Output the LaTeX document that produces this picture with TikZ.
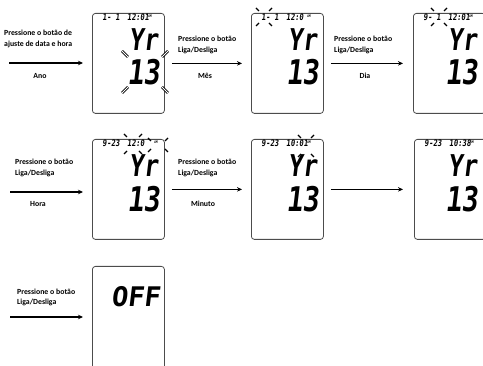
\documentclass[tikz,border=0pt]{standalone}
\usepackage{fontspec}
\setmainfont{Carlito}
\newfontfamily\lcdfont[FakeStretch=0.8,FakeSlant=0.12]{DejaVu Sans Mono}
\newfontfamily\lcdwide[FakeSlant=0.12]{DejaVu Sans Mono}
\usetikzlibrary{arrows.meta}
\tikzset{
  screen/.style={draw=black!70, line width=0.8pt, rounded corners=3pt,
    minimum width=72pt, minimum height=100pt, inner sep=0pt, anchor=north west},
  flow/.style={->, >={Stealth[length=5pt,width=4.5pt]}, line width=1.1pt},
  note/.style={align=left, anchor=west, inner sep=0pt,
    font=\bfseries\fontsize{7.8}{10.5}\selectfont},
  tag/.style={inner sep=0pt, font=\bfseries\fontsize{7.8}{9}\selectfont},
  small/.style={inner sep=0pt, font=\lcdfont\bfseries\fontsize{9}{9}\selectfont},
  ampm/.style={inner sep=0pt, anchor=base west, font=\lcdfont\bfseries\fontsize{3.5}{3.5}\selectfont},
  bigyr/.style={inner sep=0pt, anchor=base east, font=\lcdfont\bfseries\fontsize{30}{30}\selectfont},
  bignum/.style={inner sep=0pt, anchor=base east, font=\lcdfont\bfseries\fontsize{34}{34}\selectfont},
  blink/.style={line width=1.3pt},
  blinkbig/.style={double, double distance=0.9pt, line width=0.9pt},
}
% four marks round a blinking field: centre x, centre y, half width, half height, length
\newcommand{\blinkmarks}[6][blink]{%
  \foreach \sx in {-1,1}{\foreach \sy in {-1,1}{%
    \draw[#1] ({#2+\sx*#4},{#3+\sy*#5}) -- ++({\sx*#6},{\sy*#6});}}}
\begin{document}
\begin{tikzpicture}[x=1pt, y=-1pt]
  \useasboundingbox (0,0) rectangle (483,366);
  \clip (0,0) rectangle (483,366);

  % screens
  \node[screen] (s1) at (92,13) {};
  \node[screen] (s2) at (251,13) {};
  \node[screen] (s3) at (413,13) {};
  \node[screen] (s4) at (92,139) {};
  \node[screen] (s5) at (251,139) {};
  \node[screen] (s6) at (414,139) {};
  \node[screen, minimum height=112pt] (s7) at (92,266) {};

  % row 1
  \node[small, anchor=base east] (d1) at (120,20.5) {1- 1};
  \node[small, anchor=base west] (t1) at (127,20.5) {12:01};
  \node[ampm] (m1) at (148,18) {AM};
  \node[bigyr] (y1) at (158,51) {Yr};
  \node[bignum] (n1) at (160,85) {13};
  \blinkmarks[blinkbig]{145}{72}{17}{15}{6}

  \node[small, anchor=base east] (d2) at (279,20.5) {1- 1};
  \node[small, anchor=base west] (t2) at (286,20.5) {12:0};
  \node[ampm] (m2) at (307,18) {AM};
  \node[bigyr] (y2) at (317,51) {Yr};
  \node[bignum] (n2) at (319,85) {13};
  \blinkmarks{264}{17}{5}{6}{3}

  \node[small, anchor=base east] (d3) at (441,20.5) {9- 1};
  \node[small, anchor=base west] (t3) at (448,20.5) {12:01};
  \node[ampm] (m3) at (469,18) {AM};
  \node[bigyr] (y3) at (477,51) {Yr};
  \node[bignum] (n3) at (478,85) {13};
  \blinkmarks{439}{17}{5}{6}{3}

  % row 2
  \node[small, anchor=base east] (d4) at (120,146.5) {9-23};
  \node[small, anchor=base west] (t4) at (127,146.5) {12:0};
  \node[ampm] (m4) at (154,144) {AM};
  \node[bigyr] (y4) at (158,177) {Yr};
  \node[bignum] (n4) at (160,212) {13};
  \blinkmarks{133}{144}{6}{7}{3}
  \blinkmarks{158}{145}{7}{4}{3}

  \node[small, anchor=base east] (d5) at (279,146.5) {9-23};
  \node[small, anchor=base west] (t5) at (286,146.5) {10:01};
  \node[ampm] (m5) at (307,144) {AM};
  \node[bigyr] (y5) at (317,177) {Yr};
  \node[bignum] (n5) at (319,212) {13};
  \blinkmarks{306}{146}{5}{8}{3}

  \node[small, anchor=base east] (d6) at (442,146.5) {9-23};
  \node[small, anchor=base west] (t6) at (449,146.5) {10:38};
  \node[ampm] (m6) at (470,144) {AM};
  \node[bigyr] (y6) at (477,177) {Yr};
  \node[bignum] (n6) at (478,212) {13};

  % row 3
  \node[inner sep=0pt, anchor=base east, font=\lcdwide\bfseries\fontsize{27}{27}\selectfont]
    (off) at (160,307) {OFF};

  % arrows and labels
  \coordinate (a1) at (9,63);
  \coordinate (a4) at (10,192);
  \coordinate (a7) at (10,317);
  \draw[flow, shorten >=9pt] (a1) -- (a1 -| s1.west);
  \draw[flow, shorten <=7pt, shorten >=9pt] (s1.east) -- (s2.west);
  \draw[flow, shorten <=7pt, shorten >=10pt] (s2.east) -- (s3.west);
  \draw[flow, shorten >=9pt] (a4) -- (a4 -| s4.west);
  \draw[flow, shorten <=7pt, shorten >=9pt] (s4.east) -- (s5.west);
  \draw[flow, shorten <=7pt, shorten >=11pt] (s5.east) -- (s6.west);
  \draw[flow, shorten >=9pt] (a7) -- (a7 -| s7.west);

  \node[note] (l1) at (4,39) {Pressione o botão de\\ajuste de data e hora};
  \node[note] (l2) at (178,45) {Pressione o botão\\Liga/Desliga};
  \node[note] (l3) at (334,45) {Pressione o botão\\Liga/Desliga};
  \node[note] (l4) at (15,168) {Pressione o botão\\Liga/Desliga};
  \node[note] (l5) at (178,168) {Pressione o botão\\Liga/Desliga};
  \node[note] (l7) at (17,297.5) {Pressione o botão\\Liga/Desliga};
  \node[tag] (k1) at (40,76) {Ano};
  \node[tag] (k2) at (205,76) {Mês};
  \node[tag] (k3) at (365,76) {Dia};
  \node[tag] (k4) at (38,204) {Hora};
  \node[tag] (k5) at (203,204) {Minuto};
\end{tikzpicture}
\end{document}
